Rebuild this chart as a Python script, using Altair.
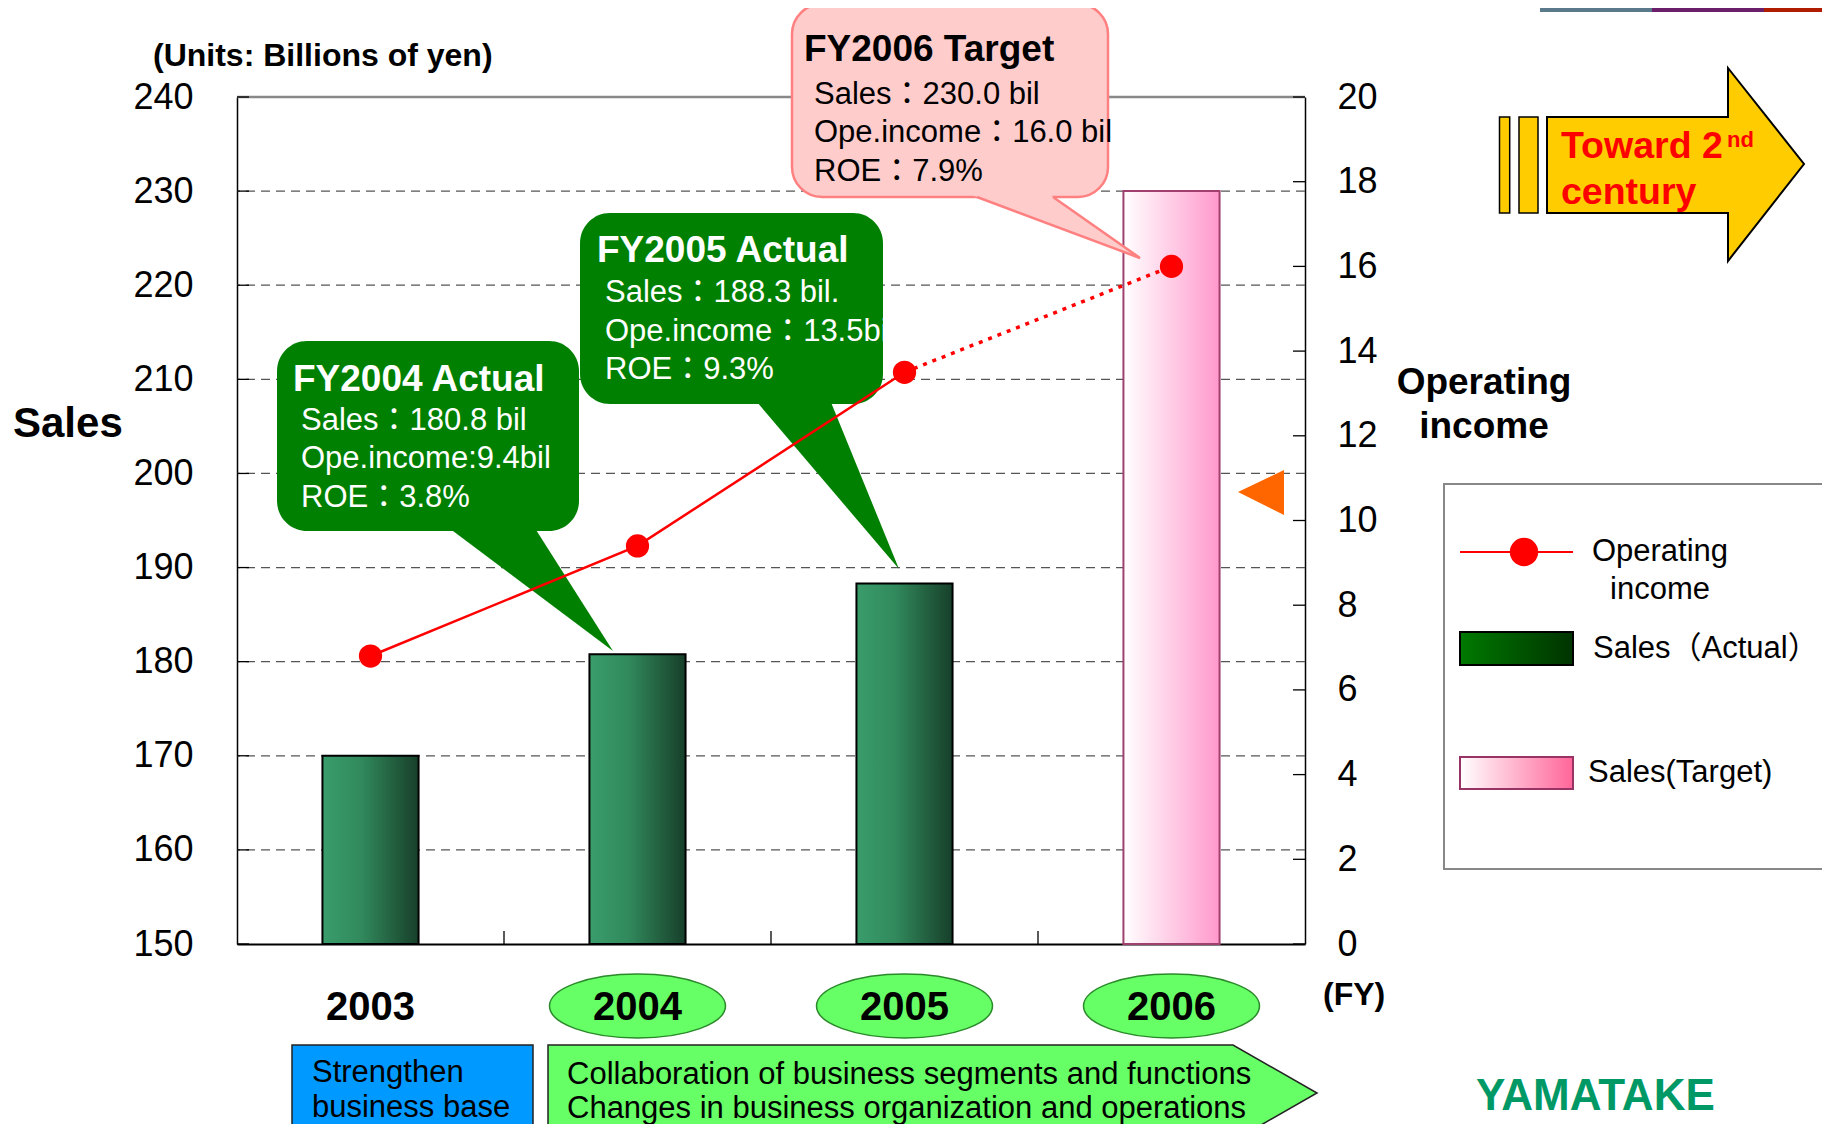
import altair as alt
import pandas as pd

# ---------------- data ----------------
years = ["2003", "2004", "2005", "2006"]
sales = [170.0, 180.8, 188.3, 230.0]
sales_status = ["Actual", "Actual", "Actual", "Target"]
op_income = [6.8, 9.4, 13.5, 16.0]
sales_ticks = [150, 160, 170, 180, 190, 200, 210, 220, 230, 240]
grid_values = [160, 170, 180, 190, 200, 210, 220, 230]
income_ticks = [0, 2, 4, 6, 8, 10, 12, 14, 16, 18, 20]

callout_2004 = ["FY2004 Actual", "Sales：180.8 bil", "Ope.income:9.4bil", "ROE：3.8%"]
callout_2005 = ["FY2005 Actual", "Sales：188.3 bil.", "Ope.income：13.5bil", "ROE：9.3%"]
callout_2006 = ["FY2006 Target", "Sales：230.0 bil", "Ope.income：16.0 bil", "ROE：7.9%"]
legend_labels = ["Operating", "income", "Sales（Actual）", "Sales(Target)"]
banner_left = ["Strengthen", "business base"]
banner_right = ["Collaboration of business segments and functions",
                "Changes in business organization and operations"]

W, H = 1068, 847
FONT = "Liberation Sans, Noto Sans CJK JP"
PAD_INNER, PAD_OUTER = 0.64, 0.32
STEP = W / (len(years) - PAD_INNER + 2 * PAD_OUTER)

df = pd.DataFrame({"year": years, "sales": sales, "status": sales_status, "income": op_income})
one = pd.DataFrame({"k": [0]})

# ---------------- helpers ----------------
def txt(s, x, y, size, bold=False, color="black", align="left", baseline="middle"):
    return alt.Chart(one).mark_text(
        text=s, align=align, baseline=baseline, font=FONT, fontSize=size,
        fontWeight="bold" if bold else "normal", color=color
    ).encode(x=alt.value(x), y=alt.value(y))


def box(x1, x2, y1, y2, fill, stroke=None, sw=1.5, r=0):
    kw = dict(fill=fill, cornerRadius=r, opacity=1)
    if stroke:
        kw.update(stroke=stroke, strokeWidth=sw)
    else:
        kw.update(strokeWidth=0)
    return alt.Chart(one).mark_rect(**kw).encode(
        x=alt.value(x1), x2=alt.value(x2), y=alt.value(y1), y2=alt.value(y2))


def shape(path, fill=None, stroke=None, sw=1.5):
    kw = dict(shape=path, size=4, opacity=1)
    if fill:
        kw.update(filled=True, fill=fill)
    else:
        kw.update(filled=False, fill="transparent")
    if stroke:
        kw.update(stroke=stroke, strokeWidth=sw)
    else:
        kw.update(strokeWidth=0)
    return alt.Chart(one).mark_point(**kw).encode(x=alt.value(0), y=alt.value(0))


def grad(c0, c1, mid=None):
    stops = [alt.GradientStop(color=c0, offset=0)]
    if mid:
        stops.append(alt.GradientStop(color=mid[0], offset=mid[1]))
    stops.append(alt.GradientStop(color=c1, offset=1))
    return alt.LinearGradient(gradient="linear", stops=stops, x1=0, x2=1, y1=0, y2=0)


green_bar = grad("#3a9d6b", "#173f2a", ("#318a5c", 0.4))
pink_bar = grad("#ffffff", "#ff99cc")
green_leg = grad("#007a00", "#003300")
pink_leg = grad("#ffffff", "#ff6699")

# ---------------- scales & axes ----------------
xscale = alt.Scale(domain=years, paddingInner=PAD_INNER, paddingOuter=PAD_OUTER)
xaxis = alt.Axis(labels=False, ticks=False, title=None, domainColor="black", domainWidth=2, grid=False)
X = alt.X("year:N", scale=xscale, axis=xaxis)

left_y = alt.Scale(domain=[150, 240], nice=False, zero=False)
left_axis = alt.Axis(values=sales_ticks, title=None, labelFont=FONT, labelFontSize=36,
                     labelColor="black", ticks=False, tickSize=0, labelPadding=44,
                     domainColor="black", domainWidth=1.5, grid=False)
right_y = alt.Scale(domain=[0, 20], nice=False)
right_axis = alt.Axis(orient="right", values=income_ticks, title=None, labelFont=FONT,
                      labelFontSize=36, labelColor="black", ticks=False, tickSize=0,
                      labelPadding=32, domainColor="black", domainWidth=1.5, grid=False)

# ---------------- left (sales) group ----------------
grid = alt.Chart(pd.DataFrame({"v": grid_values})).mark_rule(
    color="#555555", strokeDash=[9, 6], strokeWidth=1.3
).encode(y=alt.Y("v:Q", scale=left_y, axis=left_axis))

left_ticks = alt.Chart(pd.DataFrame({"v": sales_ticks})).mark_rule(
    color="black", strokeWidth=1.3
).encode(y=alt.Y("v:Q", scale=left_y, axis=left_axis), x=alt.value(0), x2=alt.value(12))

top_border = alt.Chart(one).mark_rule(color="#888888", strokeWidth=2.5).encode(
    x=alt.value(0), x2=alt.value(W), y=alt.value(0))

# category separators: half of the inner padding before each band start
bottom_ticks = alt.Chart(pd.DataFrame({"year": years[1:]})).mark_rule(
    color="black", strokeWidth=1.3, xOffset=-STEP * PAD_INNER / 2
).encode(x=alt.X("year:N", scale=xscale, axis=xaxis, bandPosition=0),
         y=alt.value(H - 13), y2=alt.value(H))

bars_actual = alt.Chart(df).transform_filter(alt.datum.status == "Actual").mark_bar(
    fill=green_bar, stroke="black", strokeWidth=2
).encode(x=X, y=alt.Y("sales:Q", scale=left_y, axis=left_axis), y2=alt.datum(150))

bars_target = alt.Chart(df).transform_filter(alt.datum.status == "Target").mark_bar(
    fill=pink_bar, stroke="#a0406e", strokeWidth=2
).encode(x=X, y=alt.Y("sales:Q", scale=left_y, axis=left_axis), y2=alt.datum(150))

deco = []
# top strip
deco += [box(1303, 1415, -89, -85, "#5a7a8c"), box(1415, 1527, -89, -85, "#6b1f6b"),
         box(1527, 1600, -89, -85, "#b01c00")]
# titles
deco += [txt("(Units: Billions of yen)", -84, -41, 32, bold=True),
         txt("Sales", -224, 327, 42, bold=True),
         txt("Operating", 1247, 286, 37, bold=True, align="center"),
         txt("income", 1247, 330, 37, bold=True, align="center"),
         txt("(FY)", 1086, 898, 32, bold=True)]

# callout FY2004
G = "#008000"
deco += [shape("M204,425 L294,425 L376,554 Z", fill=G),
         box(40, 342, 244, 434, G, r=30),
         txt(callout_2004[0], 56, 283, 37, bold=True, color="white")]
deco += [txt(s, 64, yy, 31, color="white") for s, yy in zip(callout_2004[1:], [324, 362, 401])]
# callout FY2005
deco += [shape("M514,298 L591,298 L662,472 Z", fill=G),
         box(343, 646, 116, 307, G, r=30),
         txt(callout_2005[0], 360, 154, 37, bold=True, color="white")]
deco += [txt(s, 368, yy, 31, color="white") for s, yy in zip(callout_2005[1:], [196, 235, 273])]
# callout FY2006
PK, PKS = "#ffcccc", "#ff8080"
deco += [box(555, 871, -93, 100, PK, stroke=PKS, sw=2.5, r=30),
         shape("M719,92 L805,92 L903,161 Z", fill=PK),
         shape("M740,100 L903,161 L816,100", stroke=PKS, sw=2.5),
         txt(callout_2006[0], 567, -47, 37, bold=True)]
deco += [txt(s, 577, yy, 31) for s, yy in zip(callout_2006[1:], [-2, 36, 75])]

# orange marker
deco += [shape("M1001,395 L1047,373 L1047,418 Z", fill="#ff6600")]

# yellow arrow
Y_ = "#ffcc00"
deco += [box(1262.5, 1272.7, 20, 116, Y_, stroke="black", sw=1.5),
         box(1282, 1301, 20, 116, Y_, stroke="black", sw=1.5),
         shape("M1310,20 L1491,20 L1491,-29 L1567,67 L1491,164 L1491,116 L1310,116 Z",
               fill=Y_, stroke="black", sw=2),
         txt("Toward 2", 1324, 50, 37.5, bold=True, color="#ff0000"),
         txt("nd", 1490, 43, 22, bold=True, color="#ff0000"),
         txt("century", 1324, 96, 37.5, bold=True, color="#ff0000")]

# legend
deco += [box(1207, 1586, 387, 772, "white", stroke="#888888", sw=2),
         alt.Chart(one).mark_rule(color="#ff0000", strokeWidth=2).encode(
             x=alt.value(1223), x2=alt.value(1336), y=alt.value(455)),
         alt.Chart(one).mark_circle(color="#ff0000", size=804, opacity=1).encode(
             x=alt.value(1287), y=alt.value(455)),
         txt(legend_labels[0], 1423, 455, 31, align="center"),
         txt(legend_labels[1], 1423, 493, 31, align="center"),
         box(1223, 1336, 535, 568, green_leg, stroke="black", sw=2),
         txt(legend_labels[2], 1356, 552, 31),
         box(1223, 1336, 660, 692, pink_leg, stroke="#993366", sw=2),
         txt(legend_labels[3], 1351, 676, 31)]

# bottom banners
deco += [box(55, 296, 948, 1060, "#0099ff", stroke="#222222", sw=1.5),
         txt(banner_left[0], 75, 976, 31), txt(banner_left[1], 75, 1011, 31),
         shape("M311,948 L996,948 L1080,996 L996,1044 L311,1044 Z",
               fill="#66ff66", stroke="#222222", sw=1.5),
         txt(banner_right[0], 330, 978, 31), txt(banner_right[1], 330, 1012, 31)]

# logo
deco += [txt("YAMATAKE", 1239, 978, 44, bold=True, color="#009966", baseline="top")]

# year labels with ellipses
ellipses = alt.Chart(pd.DataFrame({"year": years[1:]})).mark_point(
    shape="M-88,0 A88,32 0 1,0 88,0 A88,32 0 1,0 -88,0 Z", size=4, filled=True,
    fill="#66ff66", stroke="#2a8a2a", strokeWidth=1.5, opacity=1
).encode(x=X, y=alt.value(909))
year_labels = alt.Chart(pd.DataFrame({"year": years})).mark_text(
    font=FONT, fontSize=40, fontWeight="bold", color="black", baseline="middle"
).encode(x=X, y=alt.value(911), text="year:N")

left = alt.layer(grid, top_border, left_ticks, bottom_ticks, bars_actual, bars_target,
                 *deco, ellipses, year_labels)

# ---------------- right (operating income) group ----------------
RED = "#ff0000"
line_solid = alt.Chart(df).transform_filter(
    alt.FieldOneOfPredicate(field="year", oneOf=years[:3])
).mark_line(color=RED, strokeWidth=2.5).encode(
    x=X, y=alt.Y("income:Q", scale=right_y, axis=right_axis))
line_dot = alt.Chart(df).transform_filter(
    alt.FieldOneOfPredicate(field="year", oneOf=years[2:])
).mark_line(color=RED, strokeWidth=3.5, strokeDash=[4, 6]).encode(
    x=X, y=alt.Y("income:Q", scale=right_y, axis=right_axis))
points = alt.Chart(df).mark_circle(color=RED, size=540, opacity=1).encode(
    x=X, y=alt.Y("income:Q", scale=right_y, axis=right_axis))
right_ticks = alt.Chart(pd.DataFrame({"v": income_ticks})).mark_rule(
    color="black", strokeWidth=1.3
).encode(y=alt.Y("v:Q", scale=right_y, axis=right_axis), x=alt.value(W - 12), x2=alt.value(W))

right = alt.layer(right_ticks, line_solid, line_dot, points)

chart = alt.layer(left, right).resolve_scale(y="independent").properties(
    width=W, height=H,
    padding={"left": 229, "top": 89, "right": 517, "bottom": 180},
    autosize=alt.AutoSizeParams(type="none"),
    background="white",
).configure_view(stroke=None)

chart.save("out.html", embed_options={"renderer": "svg", "actions": False})
